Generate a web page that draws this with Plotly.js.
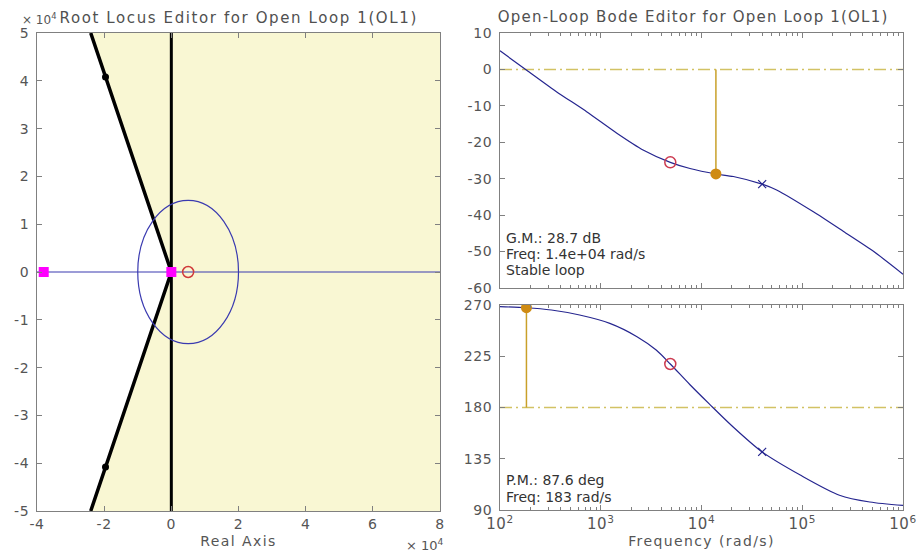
<!DOCTYPE html>
<html>
<head>
<meta charset="utf-8">
<script src="https://cdn.plot.ly/plotly-3.0.1.min.js"></script>
<style>
  html, body { margin: 0; padding: 0; background: #fff; }
  #chart { width: 918px; height: 554px; }
  #chart .xtick text, #chart .ytick text,
  #chart .x2tick text, #chart .y2tick text,
  #chart .x3tick text, #chart .y3tick text { letter-spacing: 0.6px; }
  #chart .g-xtitle text, #chart .g-x3title text { letter-spacing: 1.4px; }
  #chart g.annotation[data-index="0"] text { letter-spacing: 1.6px; }
  #chart g.annotation[data-index="1"] text { letter-spacing: 1.2px; }
</style>
</head>
<body>
<div id="chart"></div>
<script>
// ---------- Root locus data (units: x 10^4) ----------
const realTicks = [-4, -2, 0, 2, 4, 6, 8];
const imagTicks = [-5, -4, -3, -2, -1, 0, 1, 2, 3, 4, 5];
const shadeRe = [0, -2.4, 8, 8, -2.4, 0];
const shadeIm = [0, 5, 5, -5, -5, 0];
const dampRe = [-2.4, 0, -2.4];
const dampIm = [5, 0, -5];
const dampDotRe = [-1.96, -1.96];
const dampDotIm = [4.08, -4.08];
const boundRe = [0, 0];
const boundIm = [5, -5];
const realBranchRe = [-4, 8];
const realBranchIm = [0, 0];
const locusCircleCenter = 0.5;
const locusCircleRadius = 1.5;
const poleRe = [-3.8, 0];
const poleIm = [0, 0];
const zeroRe = [0.5];
const zeroIm = [0];

// ---------- Bode data ----------
const magFreq = [100, 184, 363, 724, 1445, 2630, 4900, 7690, 13900, 20700, 40000, 55700, 129000, 257000, 513000, 1000000];
const magDb   = [5.1, -0.2, -6.1, -11.6, -17.5, -22.1, -25.5, -27.2, -28.7, -29.4, -31.5, -33.1, -39.1, -44.5, -50.0, -56.2];
const phaseFreq = [100, 183, 324, 617, 1230, 2290, 3550, 4900, 7690, 12000, 20000, 40000, 95500, 234000, 468000, 1000000];
const phaseDeg  = [268.5, 267.6, 265.6, 261.2, 253.9, 242.2, 230.5, 218.2, 200, 183, 164, 141, 120.7, 103, 97, 94];
const zeroFreq = [4900];
const zeroMag = [-25.5];
const zeroPhase = [218.2];
const poleFreq = [40000];
const poleMag = [-31.5];
const polePhase = [141];
const gmFreq = [13900];
const gmDb = [-28.7];
const pmFreq = [183];
const pmPhase = [267.6];
const freqRange = [100, 1000000];
const magRef = 0;
const phaseRef = 180;
const magTicks = [-60, -50, -40, -30, -20, -10, 0, 10];
const phaseTicks = [90, 135, 180, 225, 270];
const decadeTicks = [100, 1000, 10000, 100000, 1000000];
const decadeText = ['10<sup>2</sup>', '10<sup>3</sup>', '10<sup>4</sup>', '10<sup>5</sup>', '10<sup>6</sup>'];

const minorFreqTicks = [];
for (let d = 2; d < 6; d++) {
  for (let k = 2; k <= 9; k++) minorFreqTicks.push(k * Math.pow(10, d));
}

const navy = '#25258f';
const gold = '#c9a02a';
const dashGold = '#d2c264';
const orange = '#cf8b12';
const zeroRed = '#cc3a50';
const fontFam = 'DejaVu Sans, Liberation Sans, Arial, sans-serif';
const tickFont = {family: fontFam, size: 14, color: '#555555'};
const dashDot = '12px,4px,2px,4px';

const W = 918, H = 554;
const px = v => v / W;
const py = v => 1 - v / H;

const traces = [
  {x: shadeRe, y: shadeIm, xaxis: 'x', yaxis: 'y', mode: 'lines', fill: 'toself',
   fillcolor: '#f9f7d3', line: {width: 0, color: 'rgba(0,0,0,0)'}, hoverinfo: 'skip', showlegend: false},
  {x: realBranchRe, y: realBranchIm, xaxis: 'x', yaxis: 'y', mode: 'lines',
   line: {color: '#3a3ab0', width: 1.2}, showlegend: false},
  {x: dampRe, y: dampIm, xaxis: 'x', yaxis: 'y', mode: 'lines',
   line: {color: '#000000', width: 3.5}, showlegend: false},
  {x: boundRe, y: boundIm, xaxis: 'x', yaxis: 'y', mode: 'lines',
   line: {color: '#000000', width: 3}, showlegend: false},
  {x: dampDotRe, y: dampDotIm, xaxis: 'x', yaxis: 'y', mode: 'markers',
   marker: {color: '#000000', size: 7, symbol: 'circle'}, showlegend: false},
  {x: poleRe, y: poleIm, xaxis: 'x', yaxis: 'y', mode: 'markers',
   marker: {color: '#ff00ff', size: 10, symbol: 'square'}, showlegend: false},
  {x: zeroRe, y: zeroIm, xaxis: 'x', yaxis: 'y', mode: 'markers',
   marker: {color: '#d03a3a', size: 11, symbol: 'circle-open', line: {width: 1.5}}, showlegend: false},

  // magnitude
  {x: freqRange, y: [magRef, magRef], xaxis: 'x2', yaxis: 'y2', mode: 'lines',
   line: {color: dashGold, width: 1.5, dash: dashDot}, showlegend: false},
  {x: [gmFreq[0], gmFreq[0]], y: [magRef, gmDb[0]], xaxis: 'x2', yaxis: 'y2', mode: 'lines',
   line: {color: gold, width: 1.5}, showlegend: false},
  {x: magFreq, y: magDb, xaxis: 'x2', yaxis: 'y2', mode: 'lines',
   line: {color: navy, width: 1.2, shape: 'spline', smoothing: 0.6}, showlegend: false},
  {x: zeroFreq, y: zeroMag, xaxis: 'x2', yaxis: 'y2', mode: 'markers',
   marker: {color: zeroRed, size: 11, symbol: 'circle-open', line: {width: 1.5}}, showlegend: false},
  {x: poleFreq, y: poleMag, xaxis: 'x2', yaxis: 'y2', mode: 'markers',
   marker: {color: navy, size: 8, symbol: 'x-thin-open', line: {width: 1.2}}, showlegend: false},
  {x: gmFreq, y: gmDb, xaxis: 'x2', yaxis: 'y2', mode: 'markers',
   marker: {color: orange, size: 11, symbol: 'circle'}, showlegend: false},

  // phase
  {x: freqRange, y: [phaseRef, phaseRef], xaxis: 'x3', yaxis: 'y3', mode: 'lines',
   line: {color: dashGold, width: 1.5, dash: dashDot}, showlegend: false},
  {x: [pmFreq[0], pmFreq[0]], y: [pmPhase[0], phaseRef], xaxis: 'x3', yaxis: 'y3', mode: 'lines',
   line: {color: gold, width: 1.5}, showlegend: false},
  {x: phaseFreq, y: phaseDeg, xaxis: 'x3', yaxis: 'y3', mode: 'lines',
   line: {color: navy, width: 1.2, shape: 'spline', smoothing: 0.8}, showlegend: false},
  {x: zeroFreq, y: zeroPhase, xaxis: 'x3', yaxis: 'y3', mode: 'markers',
   marker: {color: zeroRed, size: 11, symbol: 'circle-open', line: {width: 1.5}}, showlegend: false},
  {x: poleFreq, y: polePhase, xaxis: 'x3', yaxis: 'y3', mode: 'markers',
   marker: {color: navy, size: 8, symbol: 'x-thin-open', line: {width: 1.2}}, showlegend: false},
  {x: pmFreq, y: pmPhase, xaxis: 'x3', yaxis: 'y3', mode: 'markers',
   marker: {color: orange, size: 11, symbol: 'circle'}, showlegend: false}
];

const axBase = {
  showgrid: false, zeroline: false, showline: true, linecolor: '#808080', linewidth: 1,
  mirror: 'ticks', ticks: 'inside', ticklen: 5, tickcolor: '#808080', tickfont: tickFont
};

const logMinor = {ticks: 'inside', ticklen: 3, tickcolor: '#808080', tickmode: 'array', tickvals: minorFreqTicks, showgrid: false};

const layout = {
  width: W, height: H,
  margin: {l: 0, r: 0, t: 0, b: 0},
  paper_bgcolor: '#ffffff', plot_bgcolor: '#ffffff',
  showlegend: false,
  font: {family: fontFam, size: 14, color: '#555555'},
  shapes: [
    {type: 'circle', xref: 'x', yref: 'y', layer: 'above',
     x0: locusCircleCenter - locusCircleRadius, x1: locusCircleCenter + locusCircleRadius,
     y0: -locusCircleRadius, y1: locusCircleRadius,
     line: {color: '#3a3ab0', width: 1.2}, fillcolor: 'rgba(0,0,0,0)'}
  ],
  xaxis: Object.assign({}, axBase, {domain: [px(37), px(440)], range: [-4, 8], anchor: 'y',
    tickmode: 'array', tickvals: realTicks, ticktext: realTicks.map(String),
    title: {text: 'Real Axis', font: {family: fontFam, size: 14, color: '#555555'}, standoff: 5}}),
  yaxis: Object.assign({}, axBase, {domain: [py(511), py(33)], range: [-5, 5], anchor: 'x',
    tickmode: 'array', tickvals: imagTicks, ticktext: imagTicks.map(String), ticklabelstandoff: 4}),
  xaxis2: Object.assign({}, axBase, {domain: [px(500), px(903)], type: 'log', range: [2, 6], anchor: 'y2',
    tickmode: 'array', tickvals: decadeTicks, ticktext: decadeText, showticklabels: false, minor: logMinor}),
  yaxis2: Object.assign({}, axBase, {domain: [py(288), py(33)], range: [-60, 10], anchor: 'x2',
    tickmode: 'array', tickvals: magTicks, ticktext: magTicks.map(String), ticklabelstandoff: 4}),
  xaxis3: Object.assign({}, axBase, {domain: [px(500), px(903)], type: 'log', range: [2, 6], anchor: 'y3',
    tickmode: 'array', tickvals: decadeTicks, ticktext: decadeText, minor: logMinor,
    tickfont: {family: fontFam, size: 15, color: '#555555'},
    title: {text: 'Frequency (rad/s)', font: {family: fontFam, size: 14, color: '#555555'}, standoff: 3}}),
  yaxis3: Object.assign({}, axBase, {domain: [py(510), py(305)], range: [90, 270], anchor: 'x3',
    tickmode: 'array', tickvals: phaseTicks, ticktext: phaseTicks.map(String), ticklabelstandoff: 4}),
  annotations: [
    {text: 'Root Locus Editor for Open Loop 1(OL1)', xref: 'paper', yref: 'paper', x: px(238), y: py(18),
     xanchor: 'center', yanchor: 'middle', showarrow: false, font: {family: fontFam, size: 15, color: '#505050'}},
    {text: 'Open-Loop Bode Editor for Open Loop 1(OL1)', xref: 'paper', yref: 'paper', x: px(693), y: py(17),
     xanchor: 'center', yanchor: 'middle', showarrow: false, font: {family: fontFam, size: 15, color: '#505050'}},
    {text: '× 10<sup>4</sup>', xref: 'paper', yref: 'paper', x: px(20), y: py(19),
     xanchor: 'left', yanchor: 'middle', showarrow: false, font: {family: fontFam, size: 12, color: '#555555'}},
    {text: '× 10<sup>4</sup>', xref: 'paper', yref: 'paper', x: px(446), y: py(545),
     xanchor: 'right', yanchor: 'middle', showarrow: false, font: {family: fontFam, size: 13, color: '#555555'}},
    {text: 'G.M.: 28.7 dB', xref: 'paper', yref: 'paper', x: px(504), y: py(238),
     xanchor: 'left', yanchor: 'middle', showarrow: false, font: {family: fontFam, size: 14, color: '#333333'}},
    {text: 'Freq: 1.4e+04 rad/s', xref: 'paper', yref: 'paper', x: px(504), y: py(254),
     xanchor: 'left', yanchor: 'middle', showarrow: false, font: {family: fontFam, size: 14, color: '#333333'}},
    {text: 'Stable loop', xref: 'paper', yref: 'paper', x: px(504), y: py(270),
     xanchor: 'left', yanchor: 'middle', showarrow: false, font: {family: fontFam, size: 14, color: '#333333'}},
    {text: 'P.M.: 87.6 deg', xref: 'paper', yref: 'paper', x: px(504), y: py(480),
     xanchor: 'left', yanchor: 'middle', showarrow: false, font: {family: fontFam, size: 14, color: '#333333'}},
    {text: 'Freq: 183 rad/s', xref: 'paper', yref: 'paper', x: px(504), y: py(497),
     xanchor: 'left', yanchor: 'middle', showarrow: false, font: {family: fontFam, size: 14, color: '#333333'}}
  ]
};

Plotly.newPlot('chart', traces, layout, {displayModeBar: false, staticPlot: true});
</script>
</body>
</html>
